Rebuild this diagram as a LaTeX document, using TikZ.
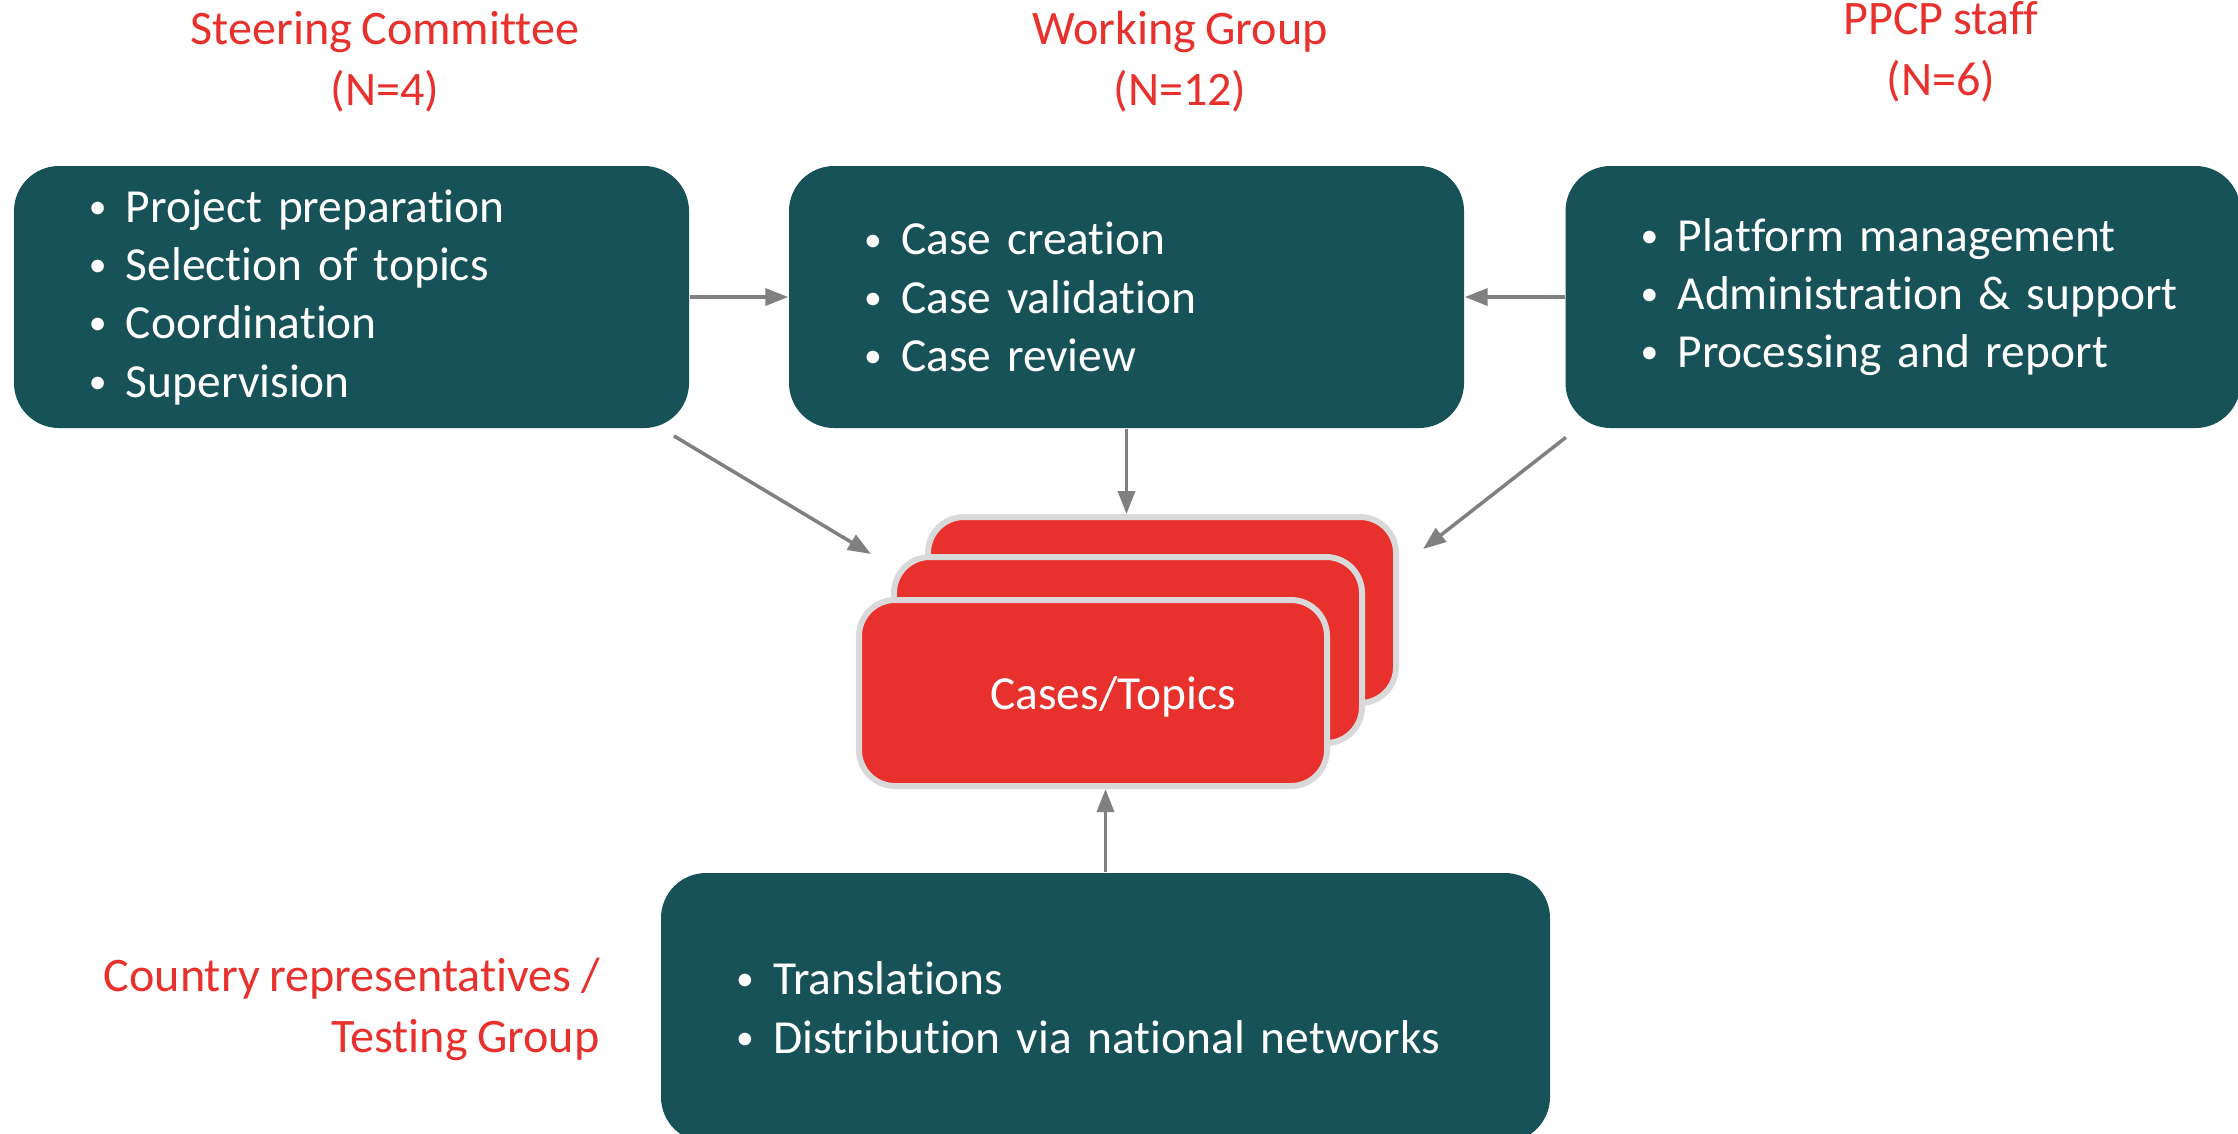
\documentclass[tikz,border=0pt]{standalone}
\usepackage{fontspec}
\setmainfont{Carlito}[Ligatures=NoCommon,WordSpace=0.85]
\usetikzlibrary{arrows.meta,calc,positioning}
\definecolor{PTeal}{HTML}{165257}
\definecolor{PRed}{HTML}{E8302D}
\definecolor{PEdge}{HTML}{D9D9D9}
\definecolor{PGrey}{HTML}{808080}
\newcommand{\itm}[1]{\hspace*{0.75cm}\makebox[0.37cm][l]{\raisebox{0.08em}{\scalebox{0.75}{\textbullet}}}#1}
\tikzset{
    group/.style = {rectangle, rounded corners=0.45cm, fill=PTeal, text=white,
        minimum height=2.62cm, minimum width=6.75cm, text width=6.75cm,
        inner xsep=0pt, inner ysep=0pt, align=left,
        font=\fontsize{13.5}{16.6}\selectfont},
    card/.style = {rectangle, rounded corners=0.36cm, fill=PRed, draw=PEdge,
        line width=1.7pt, minimum width=4.68cm, minimum height=1.86cm},
    title/.style = {text=PRed, align=center, font=\fontsize{13.7}{17.4}\selectfont},
    arrow/.style = {draw=PGrey, line width=1pt, -{Triangle[length=0.23cm,width=0.17cm]}}
}
\begin{document}
\begin{tikzpicture}
    \useasboundingbox (0,0) rectangle (22.38,-11.33);
    \clip (0,0) rectangle (22.38,-11.33);
    % group titles
    \node[title] (steertitle) at (3.85,-0.62) {Steering Committee\\(N=4)};
    \node[title] (worktitle) at (11.80,-0.62) {Working Group\\(N=12)};
    \node[title] (ppcptitle) at (19.41,-0.52) {PPCP staff\\(N=6)};
    \node[title, anchor=east, align=right] (countrytitle) at (6.12,-10.09) {Country representatives /\\Testing Group};
    % group boxes
    \node[group] (steer) at (3.515,-2.97) {\itm{Project preparation}\\\itm{Selection of topics}\\\itm{Coordination}\\\itm{Supervision}};
    \node[group] (work) at (11.265,-2.97) {\itm{Case creation}\\\itm{Case validation}\\\itm{Case review}};
    \node[group] (ppcp) at (19.03,-2.97) {\itm{Platform management}\\\itm{Administration \& support}\\\itm{Processing and report}};
    \node[group, minimum width=8.89cm, minimum height=2.69cm, text width=8.89cm] (dist) at (11.055,-10.075) {\itm{Translations}\\\itm{Distribution via national networks}};
    % stack of cards
    \foreach \i/\dx/\dy in {2/0.69/0.83, 1/0.35/0.43, 0/0/0}{
        \node[card] (card\i) at (10.93+\dx,-6.93+\dy) {};
    }
    \node[text=white, font=\fontsize{13.5}{16.6}\selectfont] (cases) at ($(card0.center)+(0.2,-0.04)$) {Cases/Topics};
    % connectors
    \coordinate (steerin) at ($(card1.north west)+(-0.2,0)$);
    \coordinate (ppcpin) at ($(card2.north east)+(0.24,-0.35)$);
    \draw[arrow] (steer.east) -- (work.west);
    \draw[arrow] (ppcp.west) -- (work.east);
    \draw[arrow, shorten <=4pt] (steer.-23) -- (steerin);
    \draw[arrow] (work.south) -- (work.south |- card2.north);
    \draw[arrow, shorten <=4pt] (ppcp.202) -- (ppcpin);
    \draw[arrow] (dist.north) -- (dist.north |- card0.south);
\end{tikzpicture}
\end{document}
